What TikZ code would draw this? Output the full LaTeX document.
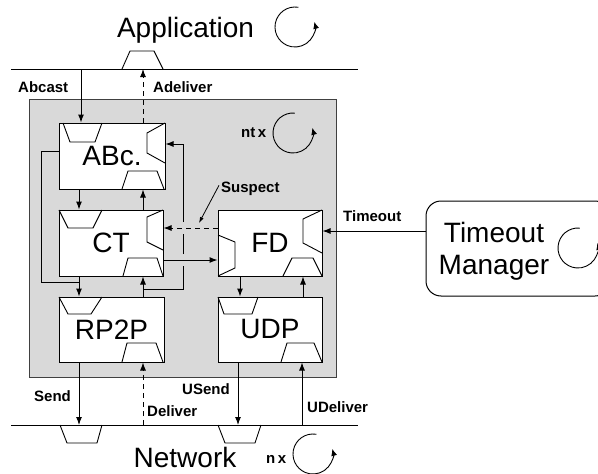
\documentclass[tikz,border=0pt]{standalone}
\usepackage{fontspec}
\setmainfont{Liberation Sans}
\usetikzlibrary{arrows.meta}
\begin{document}
\begin{tikzpicture}[x=1pt,y=-1pt,
  big/.style={font=\fontsize{28}{30}\selectfont, inner sep=0pt},
  bigb/.style={big, anchor=base},
  lbl/.style={font=\fontsize{15}{17}\selectfont\bfseries, inner sep=0pt, anchor=base west},
  blk/.style={draw, fill=white, line width=1pt, big},
  ln/.style={line width=1pt},
  trap/.style={line width=0.9pt},
  arr/.style={ln, -{Latex[length=8pt,width=6pt]}},
  darr/.style={arr, dash pattern=on 5pt off 4pt},
  carr/.style={line width=0.9pt, -{Latex[length=7pt,width=6pt]}},
]
\useasboundingbox (0,0) rectangle (598,474);
\clip (0,0) rectangle (598,474);

% application / network lines
\coordinate (appL) at (11,69);
\coordinate (appR) at (358,69);
\coordinate (netL) at (11,425);
\coordinate (netR) at (358,425);
\draw[trap] (122,69) -- (130,51) -- (154,51) -- (163,69);
\draw[trap] (60,425) -- (67,443) -- (97,443) -- (102,425);
\draw[trap] (218,425) -- (225,443) -- (255,443) -- (261,425);
\draw[ln] (appL) -- (appR);
\draw[ln] (netL) -- (netR);

\node[bigb] (app) at (185.5,37) {Application};
\node[bigb] (net) at (185,467) {Network};
\draw[carr] ([shift={(-80:20)}]295,27) arc[start angle=-80, end angle=-375, radius=20];
\draw[carr] ([shift={(-80:20)}]313,454) arc[start angle=-80, end angle=-375, radius=20];
\node[lbl] (nx) at (266,463) {n\,x};

% system box
\node[draw=black!75, fill=black!15, line width=1pt, minimum width=307, minimum height=278, inner sep=0pt] (sys) at (182.5,238) {};
\node[lbl] (ntx) at (241,137) {nt\,x};
\draw[carr] ([shift={(-85:20)}]293,133) arc[start angle=-85, end angle=-375, radius=20];

% blocks
\node[blk, minimum width=106, minimum height=66] (abc) at (112,156) {ABc.};
\node[blk, minimum width=104, minimum height=66] (ct) at (111,243) {CT};
\node[blk, minimum width=105, minimum height=65] (rp) at (111.5,329.5) {RP2P};
\node[blk, minimum width=104, minimum height=66] (fd) at (270,243) {FD};
\node[blk, minimum width=104, minimum height=65] (udp) at (270,329.5) {UDP};

% ports
\draw[trap] (63,123) -- (70,142) -- (95,142) -- (102,123);
\draw[trap] (122,189) -- (128,171) -- (157,171) -- (164,189);
\draw[trap] (165,123) -- (147,133) -- (147,153) -- (165,163);
\draw[trap] (59,210) -- (68,228) -- (93,228) -- (102,210);
\draw[trap] (123,276) -- (128,258) -- (157,258) -- (163,276);
\draw[trap] (163,210) -- (147,217) -- (147,242) -- (163,250);
\draw[trap] (59,297) -- (68,314) -- (91,314) -- (102,297);
\draw[trap] (122,362) -- (127,343) -- (156,343) -- (163,362);
\draw[trap] (218,235) -- (235,242) -- (235,268) -- (218,276);
\draw[trap] (322,210) -- (303,219) -- (303,243) -- (322,253);
\draw[trap] (283,276) -- (292,258) -- (313,258) -- (322,276);
\draw[trap] (218,297) -- (224,314) -- (252,314) -- (258,297);
\draw[trap] (281,362) -- (287,343) -- (314,343) -- (322,362);

% timeout manager
\node[draw, line width=1pt, rounded corners=15pt, minimum width=184, minimum height=95, inner sep=0pt] (tm) at (518,248.5) {};
\node[bigb] (tmA) at (494,242) {Timeout};
\node[bigb] (tmB) at (494,274) {Manager};
\draw[carr] ([shift={(-85:20)}]578,248) arc[start angle=-85, end angle=-375, radius=20];

% connectors
\draw[arr] (81,0 |- appL) -- (81,0 |- abc.north);
\draw[darr] (143,0 |- abc.north) -- (143,0 |- appL);
\draw[arr] (79,0 |- abc.south) -- (79,0 |- ct.north);
\draw[arr] (143,0 |- ct.north) -- (143,0 |- abc.south);
\draw[arr] (79,0 |- ct.south) -- (79,0 |- rp.north);
\draw[ln] (abc.west |- 0,151) -- (41,151) -- (41,282) -- (79,282);
\draw[arr] (143,0 |- rp.north) -- (143,0 |- ct.south);
\draw[ln] (143,289) -- (183,289) -- (183,266);
\draw[ln] (183,254) -- (183,234);
\draw[arr] (183,222) -- (183,144) -- (abc.east |- 0,144);
\draw[darr] (fd.west |- 0,228) -- (ct.east |- 0,228);
\draw[arr] (ct.east |- 0,260) -- (fd.west |- 0,260);
\draw[arr] (240,0 |- fd.south) -- (240,0 |- udp.north);
\draw[arr] (303,0 |- udp.north) -- (303,0 |- fd.south);
\draw[arr] (tm.west |- 0,231) -- (fd.east |- 0,231);
\draw[arr] (79,0 |- rp.south) -- (79,0 |- netL);
\draw[darr] (143,0 |- netL) -- (143,0 |- rp.south);
\draw[arr] (238,0 |- udp.south) -- (238,0 |- netL);
\draw[arr] (302,0 |- netL) -- (302,0 |- udp.south);

% labels
\node[lbl] (abcast) at (18,92) {Abcast};
\node[lbl] (adel) at (153,92) {Adeliver};
\node[lbl] (susp) at (221,192) {Suspect};
\node[lbl] (tmo) at (343,221) {Timeout};
\node[lbl] (send) at (34,401) {Send};
\node[lbl] (deliv) at (147,416) {Deliver};
\node[lbl] (usend) at (182,394) {USend};
\node[lbl] (udeliv) at (307,412) {UDeliver};
\coordinate (suspTip) at (199,223);
\draw[line width=0.8pt, -{Latex[length=6pt,width=4pt]}] ([xshift=-2pt,yshift=3pt]susp.west) -- (suspTip);
\end{tikzpicture}
\end{document}
